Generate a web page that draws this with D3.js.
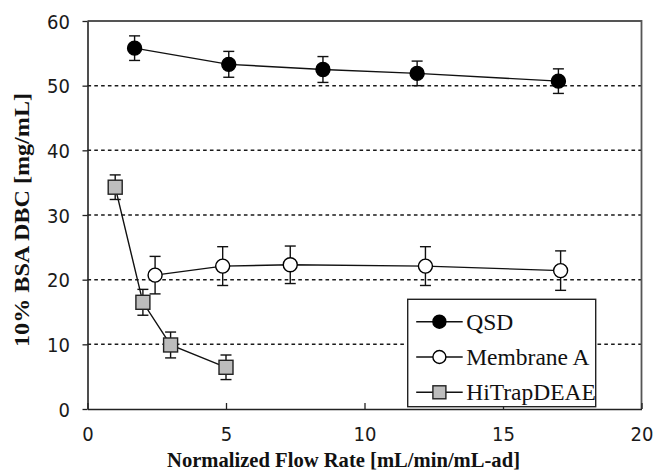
<!DOCTYPE html>
<html>
<head>
<meta charset="utf-8">
<script src="https://cdn.jsdelivr.net/npm/d3@7"></script>
<style>
  html, body { margin: 0; padding: 0; background: #fff; }
  svg { display: block; }
</style>
</head>
<body>
<svg id="chart" width="656" height="470"></svg>
<script>
// Flow rates (mL/min/mL-ad), DBC values (mg/mL) and error bar half-widths
const flowQSD = [1.7, 5.1, 8.5, 11.9, 17.0];
const dbcQSD = [55.8, 53.3, 52.5, 51.9, 50.7];
const errQSD = [1.9, 2.0, 2.0, 1.9, 1.9];

const flowMembraneA = [2.44, 4.88, 7.32, 12.2, 17.08];
const dbcMembraneA = [20.7, 22.1, 22.3, 22.1, 21.4];
const errMembraneA = [2.9, 3.0, 2.9, 3.0, 3.05];

const flowHiTrap = [1, 2, 3, 5];
const dbcHiTrap = [34.3, 16.5, 9.9, 6.45];
const errHiTrap = [1.9, 2.0, 2.0, 1.9];

const seriesNames = ["QSD", "Membrane A", "HiTrapDEAE"];
const xTicks = [0, 5, 10, 15, 20];
const yTicks = [0, 10, 20, 30, 40, 50, 60];
const gridValues = [10, 20, 30, 40, 50];
const xTitle = "Normalized Flow Rate [mL/min/mL-ad]";
const yTitle = "10% BSA DBC [mg/mL]";

const svg = d3.select("#chart");
const x = d3.scaleLinear().domain([0, 20]).range([87.5, 641.5]);
const y = d3.scaleLinear().domain([0, 60]).range([409, 21]);
const SX = 0.9; // narrow glyph width of the tick labels

const sansFont = "'DejaVu Sans', Verdana, sans-serif";
const serifFont = "'Liberation Serif', 'Times New Roman', serif";

// dashed horizontal gridlines
svg.append("g").selectAll("line").data(gridValues).join("line")
  .attr("x1", x(0)).attr("x2", x(20))
  .attr("y1", d => y(d)).attr("y2", d => y(d))
  .attr("stroke", "#1a1a1a").attr("stroke-width", 1.5)
  .attr("stroke-dasharray", "3.6,3.2");

// top and right frame
svg.append("path")
  .attr("d", `M${x(0)},${y(60)}H${x(20)}V${y(0)}`)
  .attr("fill", "none").attr("stroke", "#555").attr("stroke-width", 1.8);

// x axis with inward ticks
const gx = svg.append("g").attr("transform", `translate(0,${y(0)})`)
  .call(d3.axisBottom(x).tickValues(xTicks).tickSizeInner(-6).tickSizeOuter(0).tickPadding(17.5));
gx.select(".domain").attr("stroke", "#222").attr("stroke-width", 1.6);
gx.selectAll(".tick line").attr("stroke", "#222").attr("stroke-width", 1.3);
gx.selectAll("text")
  .attr("font-family", sansFont).attr("font-size", 20).attr("fill", "#1a1a1a")
  .attr("transform", `scale(${SX},1)`);

// y axis with outward ticks
const gy = svg.append("g").attr("transform", `translate(${x(0)},0)`)
  .call(d3.axisLeft(y).tickValues(yTicks).tickSizeInner(5).tickSizeOuter(0));
gy.select(".domain").attr("stroke", "#222").attr("stroke-width", 1.6);
gy.selectAll(".tick line").attr("stroke", "#222").attr("stroke-width", 1.3);
gy.selectAll("text")
  .attr("font-family", sansFont).attr("font-size", 20).attr("fill", "#1a1a1a")
  .attr("x", -17.5 / SX).attr("dy", "0.36em")
  .attr("transform", `scale(${SX},1)`);
gx.attr("font-family", null);
gy.attr("font-family", null);

// axis titles
svg.append("text")
  .attr("x", 167).attr("y", 466.5)
  .attr("font-family", serifFont).attr("font-weight", "bold").attr("font-size", 21)
  .attr("textLength", 353).attr("lengthAdjust", "spacingAndGlyphs")
  .attr("fill", "#111")
  .text(xTitle);

svg.append("text")
  .attr("transform", `translate(28.5,${220}) rotate(-90)`)
  .attr("text-anchor", "middle")
  .attr("font-family", serifFont).attr("font-weight", "bold").attr("font-size", 20)
  .attr("textLength", 254).attr("lengthAdjust", "spacingAndGlyphs")
  .attr("fill", "#111")
  .text(yTitle);

// series table built from the arrays above
const series = [
  { name: seriesNames[0], xs: flowQSD, ys: dbcQSD, es: errQSD, shape: "circle", fill: "#000" },
  { name: seriesNames[1], xs: flowMembraneA, ys: dbcMembraneA, es: errMembraneA, shape: "circle", fill: "#fff" },
  { name: seriesNames[2], xs: flowHiTrap, ys: dbcHiTrap, es: errHiTrap, shape: "square", fill: "#bdbdbd" }
].map(s => ({ ...s, pts: s.xs.map((v, i) => ({ x: v, y: s.ys[i], e: s.es[i] })) }));

const line = d3.line().x(d => x(d.x)).y(d => y(d.y));

function drawMarker(sel, shape, fill, r) {
  if (shape === "circle") {
    sel.append("circle").attr("r", r)
      .attr("fill", fill).attr("stroke", "#000").attr("stroke-width", 1.4);
  } else {
    sel.append("rect").attr("x", -r).attr("y", -r).attr("width", 2 * r).attr("height", 2 * r)
      .attr("fill", fill).attr("stroke", "#222").attr("stroke-width", 1.4);
  }
}

series.forEach(s => {
  const g = svg.append("g");
  g.append("path").datum(s.pts).attr("d", line)
    .attr("fill", "none").attr("stroke", "#111").attr("stroke-width", 1.4);

  // error bars with caps
  const eb = g.selectAll(".err").data(s.pts).join("g").attr("class", "err");
  eb.append("line")
    .attr("x1", d => x(d.x)).attr("x2", d => x(d.x))
    .attr("y1", d => y(d.y + d.e)).attr("y2", d => y(d.y - d.e));
  eb.append("line")
    .attr("x1", d => x(d.x) - 5.5).attr("x2", d => x(d.x) + 5.5)
    .attr("y1", d => y(d.y + d.e)).attr("y2", d => y(d.y + d.e));
  eb.append("line")
    .attr("x1", d => x(d.x) - 5.5).attr("x2", d => x(d.x) + 5.5)
    .attr("y1", d => y(d.y - d.e)).attr("y2", d => y(d.y - d.e));
  eb.selectAll("line").attr("stroke", "#111").attr("stroke-width", 1.4);

  g.selectAll(".mk").data(s.pts).join("g").attr("class", "mk")
    .attr("transform", d => `translate(${x(d.x)},${y(d.y)})`)
    .each(function () { drawMarker(d3.select(this), s.shape, s.fill, 7); });
});

// legend
const legend = svg.append("g").attr("transform", "translate(407.7,299.3)");
legend.append("rect").attr("width", 188).attr("height", 107.4)
  .attr("fill", "#fff").attr("stroke", "#222").attr("stroke-width", 1.4);
series.forEach((s, i) => {
  const row = legend.append("g").attr("transform", `translate(0,${22.4 + i * 35.3})`);
  row.append("line").attr("x1", 8.5).attr("x2", 55).attr("y1", 0).attr("y2", 0)
    .attr("stroke", "#111").attr("stroke-width", 1.4);
  const m = row.append("g").attr("transform", "translate(31.7,0)");
  drawMarker(m, s.shape, s.fill, 6.5);
  row.append("text").attr("x", 58.5).attr("y", 8)
    .style("font-family", "'Liberation Serif', serif").attr("font-size", 23.5).attr("fill", "#111")
    .text(s.name);
});
</script>
</body>
</html>
